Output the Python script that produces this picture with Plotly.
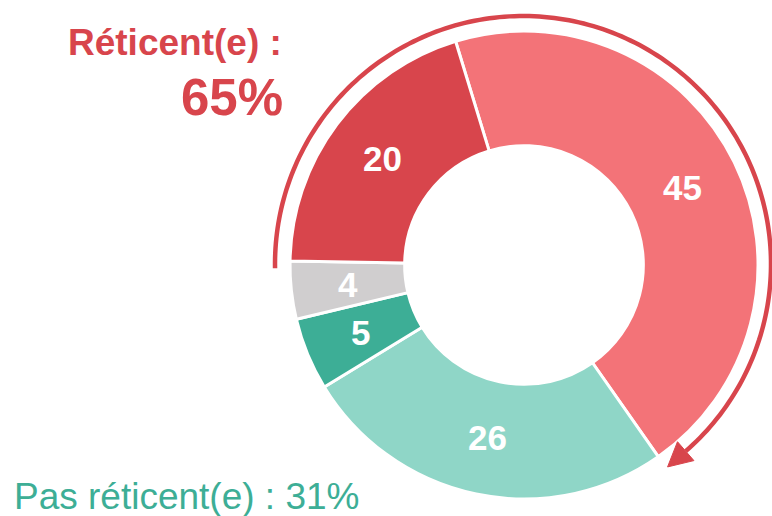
import numpy as np
import plotly.graph_objects as go

# données
categories = ['Très réticent(e)', 'Plutôt pas réticent(e)', 'Pas du tout réticent(e)', 'NSP', 'Tout à fait réticent(e)']
valeurs = [45, 26, 5, 4, 20]
couleurs = ['#F37378', '#8FD6C7', '#3DAE96', '#D0CECF', '#D8454C']
reticent_total = 65
pas_reticent_total = 31

W, H = 772, 516
ROUGE = '#D8454C'
VERT = '#3DAE96'
POLICE = 'Liberation Sans, Arial, sans-serif'

# géométrie du donut (pixels)
cx, cy, r = 524, 265, 234
trou = 0.51
rotation = -17


def px2paper(x, y):
    return x / W, 1 - y / H


x0, y1 = px2paper(cx - r, cy - r)
x1, y0 = px2paper(cx + r, cy + r)

fig = go.Figure()

fig.add_trace(go.Pie(
    labels=categories,
    values=valeurs,
    sort=False,
    direction='clockwise',
    rotation=rotation,
    hole=trou,
    marker=dict(colors=couleurs, line=dict(color='white', width=3)),
    textinfo='none',
    domain=dict(x=[x0, x1], y=[y0, y1]),
    showlegend=False,
    hoverinfo='label+value',
))

# étiquettes des valeurs au milieu de l'anneau
total = sum(valeurs)
cumul = np.cumsum([0] + valeurs)
r_mid = r * (1 + trou) / 2
for i, v in enumerate(valeurs):
    a = np.radians(rotation + (cumul[i] + v / 2) / total * 360)
    lx, ly = px2paper(cx + r_mid * np.sin(a), cy - r_mid * np.cos(a))
    fig.add_annotation(x=lx, y=ly, xref='paper', yref='paper', text=str(v),
                       showarrow=False, xanchor='center', yanchor='middle',
                       font=dict(family=POLICE, size=35, color='white', weight='bold'))

# flèche en arc autour des "réticents" (20 + 45)
a_debut = rotation - valeurs[-1] / total * 360 - 2
a_fin = rotation + valeurs[0] / total * 360 - 6
acx, acy, ra = 523, 264, 248
theta = np.radians(np.linspace(a_debut, a_fin, 200))
pts = [px2paper(acx + ra * np.sin(t), acy - ra * np.cos(t)) for t in theta]
chemin = 'M ' + ' L '.join(f'{x:.5f},{y:.5f}' for x, y in pts)
fig.add_shape(type='path', path=chemin, xref='paper', yref='paper',
              line=dict(color=ROUGE, width=4.5))

# pointe de flèche
tf = np.radians(a_fin)
ex, ey = acx + ra * np.sin(tf), acy - ra * np.cos(tf)
d = np.array([np.cos(tf), np.sin(tf)])
n = np.array([np.sin(tf), -np.cos(tf)])
L, lw = 24, 25
tip = np.array([ex, ey]) + L * d
b1 = np.array([ex, ey]) + lw / 2 * n
b2 = np.array([ex, ey]) - lw / 2 * n
tri = [px2paper(*p) for p in (tip, b1, b2)]
fig.add_shape(type='path',
              path='M ' + ' L '.join(f'{x:.5f},{y:.5f}' for x, y in tri) + ' Z',
              xref='paper', yref='paper',
              fillcolor=ROUGE, line=dict(color=ROUGE, width=1))

# annotations
ax, ay = px2paper(284, 42)
fig.add_annotation(x=ax, y=ay, xref='paper', yref='paper', text='Réticent(e) :',
                   showarrow=False, xanchor='right', yanchor='middle',
                   font=dict(family=POLICE, size=37, color=ROUGE, weight='bold'))
ax, ay = px2paper(285, 97)
fig.add_annotation(x=ax, y=ay, xref='paper', yref='paper', text=f'{reticent_total}%',
                   showarrow=False, xanchor='right', yanchor='middle',
                   font=dict(family=POLICE, size=51, color=ROUGE, weight='bold'))
ax, ay = px2paper(12, 496)
fig.add_annotation(x=ax, y=ay, xref='paper', yref='paper',
                   text=f'Pas réticent(e) : {pas_reticent_total}%',
                   showarrow=False, xanchor='left', yanchor='middle',
                   font=dict(family=POLICE, size=37, color=VERT))

fig.update_layout(
    width=W, height=H,
    margin=dict(l=0, r=0, t=0, b=0),
    paper_bgcolor='white',
    plot_bgcolor='white',
)

# pas de marge autour de la figure dans la page
fig.write_html('out.html', config={'displayModeBar': False},
               post_script="document.body.style.margin='0';")
